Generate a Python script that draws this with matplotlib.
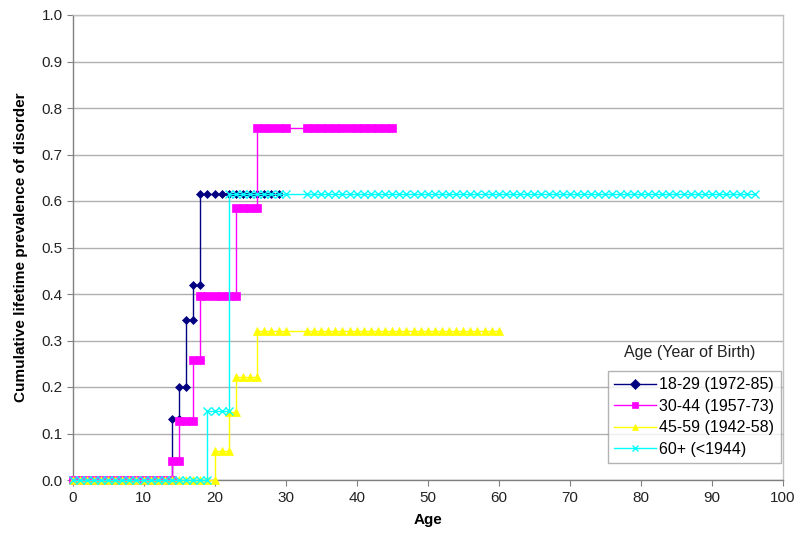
import matplotlib
matplotlib.use("Agg")
import matplotlib.pyplot as plt

plt.rcParams['font.family'] = ['Liberation Sans', 'DejaVu Sans']

# ---- data (value from each integer age onward) ----
ages_1829 = list(range(0, 30))
vals_1829 = [0.0] * 14 + [0.132, 0.200, 0.344, 0.419] + [0.614] * 12

ages_3044 = list(range(0, 31)) + list(range(33, 46))
vals_3044 = ([0.0] * 14 + [0.040, 0.127, 0.127, 0.257] + [0.396] * 5
             + [0.585] * 3 + [0.758] * 5 + [0.758] * 13)

ages_4559 = list(range(0, 31)) + list(range(33, 61))
vals_4559 = ([0.0] * 20 + [0.062, 0.062, 0.146, 0.222, 0.222, 0.222]
             + [0.321] * 5 + [0.321] * 28)

ages_60 = list(range(0, 31)) + list(range(33, 97))
vals_60 = [0.0] * 19 + [0.148] * 3 + [0.614] * 9 + [0.614] * 64

labels = ["18-29 (1972-85)", "30-44 (1957-73)", "45-59 (1942-58)", "60+ (<1944)"]
series = [(ages_1829, vals_1829), (ages_3044, vals_3044),
          (ages_4559, vals_4559), (ages_60, vals_60)]
colors = ["#000080", "#FF00FF", "#FFFF00", "#00FFFF"]
markers = ["D", "s", "^", "x"]
msizes = [4.0, 6.0, 5.5, 5.5]
mews = [0.5, 0.5, 0.5, 1.0]


def step_vertices(a, v):
    xs, ys = [], []
    for i in range(len(a)):
        if i > 0 and v[i] != v[i - 1]:
            xs.append(a[i]); ys.append(v[i - 1])
        xs.append(a[i]); ys.append(v[i])
    return xs, ys


FS = 11
LFS = 11.5
fig = plt.figure(figsize=(8.0, 5.35), dpi=100)
ax = fig.add_axes([72.5 / 800, 1 - 480 / 535, (783 - 72.5) / 800, (480 - 15) / 535])

for (a, v), c, m, ms, mw, lab in zip(series, colors, markers, msizes, mews, labels):
    xs, ys = step_vertices(a, v)
    ax.plot(xs, ys, color=c, lw=1.0, marker=m, markersize=ms, markeredgewidth=mw,
            markeredgecolor=c, markerfacecolor=c, label=lab, clip_on=False, zorder=3)

ax.set_xlim(0, 100)
ax.set_ylim(0, 1.0)
ax.set_xticks(range(0, 101, 10))
ax.set_yticks([i / 10 for i in range(11)])
ax.set_yticklabels([f"{i / 10:.1f}" for i in range(11)])
ax.yaxis.grid(True, color="#b0b0b0", lw=1.0)
ax.set_axisbelow(True)

for s in ["top", "right"]:
    ax.spines[s].set_color("#c0c0c0")
for s in ["left", "bottom"]:
    ax.spines[s].set_color("#808080")
for s in ax.spines.values():
    s.set_linewidth(1.0)

ax.tick_params(axis="both", direction="out", length=4, color="#808080",
               labelsize=FS, labelcolor="#222222")
ax.tick_params(axis="x", pad=4)
ax.tick_params(axis="y", pad=3)

ax.set_xlabel("Age", fontsize=FS, fontweight="bold", labelpad=6)
ax.set_ylabel("Cumulative lifetime prevalence of disorder", fontsize=FS,
              fontweight="bold", labelpad=10)

leg = ax.legend(loc="upper left", bbox_to_anchor=(608 / 800, 1 - 371 / 535),
                bbox_transform=fig.transFigure, fontsize=LFS, frameon=True,
                fancybox=False, edgecolor="#a0a0a0", handlelength=2.6,
                handletextpad=0.2, labelspacing=0.4, borderpad=0.4,
                borderaxespad=0)
leg.get_frame().set_linewidth(1.0)
for h in leg.legend_handles:
    h.set_markersize(5)

fig.text(690 / 800, 1 - 352 / 535, "Age (Year of Birth)", fontsize=LFS,
         ha="center", va="center", color="#222222")

fig.savefig("out.png", dpi=100)
